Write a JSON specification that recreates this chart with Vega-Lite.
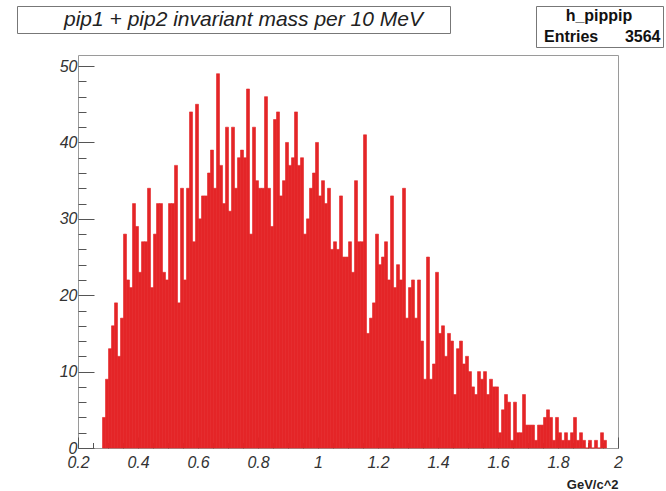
{
  "$schema": "https://vega.github.io/schema/vega-lite/v6.json",
  "width": 540,
  "height": 393,
  "autosize": {"type": "none"},
  "padding": {"left": 78, "top": 55, "right": 48, "bottom": 43},
  "background": "white",
  "config": {"view": {"stroke": "#9a9a9a", "strokeWidth": 1}, "font": "Liberation Sans"},
  "data": {"values": [
    {"m": 0.28, "n": 4}, {"m": 0.29, "n": 9}, {"m": 0.30, "n": 13}, {"m": 0.31, "n": 16}, {"m": 0.32, "n": 19},
    {"m": 0.33, "n": 12}, {"m": 0.34, "n": 17}, {"m": 0.35, "n": 28}, {"m": 0.36, "n": 22}, {"m": 0.37, "n": 21},
    {"m": 0.38, "n": 32}, {"m": 0.39, "n": 29}, {"m": 0.40, "n": 23}, {"m": 0.41, "n": 27}, {"m": 0.42, "n": 27},
    {"m": 0.43, "n": 34}, {"m": 0.44, "n": 21}, {"m": 0.45, "n": 28}, {"m": 0.46, "n": 32}, {"m": 0.47, "n": 32},
    {"m": 0.48, "n": 23}, {"m": 0.49, "n": 22}, {"m": 0.50, "n": 32}, {"m": 0.51, "n": 32}, {"m": 0.52, "n": 37},
    {"m": 0.53, "n": 19}, {"m": 0.54, "n": 34}, {"m": 0.55, "n": 22}, {"m": 0.56, "n": 34}, {"m": 0.57, "n": 44},
    {"m": 0.58, "n": 27}, {"m": 0.59, "n": 45}, {"m": 0.60, "n": 30}, {"m": 0.61, "n": 33}, {"m": 0.62, "n": 33},
    {"m": 0.63, "n": 36}, {"m": 0.64, "n": 39}, {"m": 0.65, "n": 34}, {"m": 0.66, "n": 49}, {"m": 0.67, "n": 37},
    {"m": 0.68, "n": 32}, {"m": 0.69, "n": 42}, {"m": 0.70, "n": 31}, {"m": 0.71, "n": 42}, {"m": 0.72, "n": 34},
    {"m": 0.73, "n": 38}, {"m": 0.74, "n": 39}, {"m": 0.75, "n": 38}, {"m": 0.76, "n": 47}, {"m": 0.77, "n": 28},
    {"m": 0.78, "n": 42}, {"m": 0.79, "n": 35}, {"m": 0.80, "n": 34}, {"m": 0.81, "n": 34}, {"m": 0.82, "n": 46},
    {"m": 0.83, "n": 34}, {"m": 0.84, "n": 29}, {"m": 0.85, "n": 43}, {"m": 0.86, "n": 44}, {"m": 0.87, "n": 33},
    {"m": 0.88, "n": 35}, {"m": 0.89, "n": 40}, {"m": 0.90, "n": 37}, {"m": 0.91, "n": 38}, {"m": 0.92, "n": 44},
    {"m": 0.93, "n": 37}, {"m": 0.94, "n": 38}, {"m": 0.95, "n": 28}, {"m": 0.96, "n": 30}, {"m": 0.97, "n": 34},
    {"m": 0.98, "n": 36}, {"m": 0.99, "n": 40}, {"m": 1.00, "n": 33}, {"m": 1.01, "n": 35}, {"m": 1.02, "n": 32},
    {"m": 1.03, "n": 34}, {"m": 1.04, "n": 26}, {"m": 1.05, "n": 27}, {"m": 1.06, "n": 26}, {"m": 1.07, "n": 33},
    {"m": 1.08, "n": 25}, {"m": 1.09, "n": 25}, {"m": 1.10, "n": 27}, {"m": 1.11, "n": 23}, {"m": 1.12, "n": 35},
    {"m": 1.13, "n": 27}, {"m": 1.14, "n": 27}, {"m": 1.15, "n": 41}, {"m": 1.16, "n": 15}, {"m": 1.17, "n": 17},
    {"m": 1.18, "n": 19}, {"m": 1.19, "n": 28}, {"m": 1.20, "n": 24}, {"m": 1.21, "n": 25}, {"m": 1.22, "n": 27},
    {"m": 1.23, "n": 22}, {"m": 1.24, "n": 33}, {"m": 1.25, "n": 21}, {"m": 1.26, "n": 24}, {"m": 1.27, "n": 22},
    {"m": 1.28, "n": 34}, {"m": 1.29, "n": 17}, {"m": 1.30, "n": 21}, {"m": 1.31, "n": 22}, {"m": 1.32, "n": 17},
    {"m": 1.33, "n": 22}, {"m": 1.34, "n": 14}, {"m": 1.35, "n": 9}, {"m": 1.36, "n": 25}, {"m": 1.37, "n": 9},
    {"m": 1.38, "n": 11}, {"m": 1.39, "n": 23}, {"m": 1.40, "n": 15}, {"m": 1.41, "n": 16}, {"m": 1.42, "n": 12},
    {"m": 1.43, "n": 15}, {"m": 1.44, "n": 14}, {"m": 1.45, "n": 7}, {"m": 1.46, "n": 13}, {"m": 1.47, "n": 14},
    {"m": 1.48, "n": 11}, {"m": 1.49, "n": 12}, {"m": 1.50, "n": 10}, {"m": 1.51, "n": 8}, {"m": 1.52, "n": 7},
    {"m": 1.53, "n": 10}, {"m": 1.54, "n": 9}, {"m": 1.55, "n": 10}, {"m": 1.56, "n": 7}, {"m": 1.57, "n": 9},
    {"m": 1.58, "n": 8}, {"m": 1.59, "n": 8}, {"m": 1.60, "n": 2}, {"m": 1.61, "n": 5}, {"m": 1.62, "n": 7},
    {"m": 1.63, "n": 6}, {"m": 1.64, "n": 1}, {"m": 1.65, "n": 6}, {"m": 1.66, "n": 2}, {"m": 1.67, "n": 2},
    {"m": 1.68, "n": 7}, {"m": 1.69, "n": 3}, {"m": 1.70, "n": 3}, {"m": 1.71, "n": 3}, {"m": 1.72, "n": 1},
    {"m": 1.73, "n": 3}, {"m": 1.74, "n": 3}, {"m": 1.75, "n": 4}, {"m": 1.76, "n": 5}, {"m": 1.77, "n": 4},
    {"m": 1.78, "n": 1}, {"m": 1.79, "n": 4}, {"m": 1.80, "n": 2}, {"m": 1.81, "n": 1}, {"m": 1.82, "n": 2},
    {"m": 1.83, "n": 1}, {"m": 1.84, "n": 2}, {"m": 1.85, "n": 4}, {"m": 1.86, "n": 1}, {"m": 1.87, "n": 2},
    {"m": 1.88, "n": 1}, {"m": 1.89, "n": 0}, {"m": 1.90, "n": 1}, {"m": 1.91, "n": 0}, {"m": 1.92, "n": 1},
    {"m": 1.93, "n": 0}, {"m": 1.94, "n": 2}, {"m": 1.95, "n": 1}
  ]},
  "mark": {"type": "bar", "binSpacing": 0, "stroke": "#e42527", "strokeWidth": 0.6},
  "encoding": {
    "x": {
      "field": "m", "type": "quantitative",
      "bin": {"binned": true, "step": 0.01},
      "scale": {"domain": [0.2, 2.0], "nice": false, "zero": false},
      "axis": {
        "values": [0.2, 0.25, 0.3, 0.35, 0.4, 0.45, 0.5, 0.55, 0.6, 0.65, 0.7, 0.75, 0.8, 0.85, 0.9, 0.95, 1.0, 1.05, 1.1, 1.15, 1.2, 1.25, 1.3, 1.35, 1.4, 1.45, 1.5, 1.55, 1.6, 1.65, 1.7, 1.75, 1.8, 1.85, 1.9, 1.95, 2.0],
        "labelExpr": "abs(datum.value*5 - round(datum.value*5)) < 0.001 ? format(datum.value, '~g') : ''",
        "tickSize": {"condition": {"test": "abs(datum.value*5 - round(datum.value*5)) < 0.001", "value": -11}, "value": -5.5},
        "tickColor": "#555", "tickWidth": 1,
        "domain": false, "grid": false,
        "labelFontSize": 16, "labelFontStyle": "italic", "labelColor": "#333", "labelPadding": 17,
        "labelFlush": false, "labelOverlap": false,
        "title": "GeV/c^2", "titleAnchor": "end", "titleFontWeight": "bold", "titleFontSize": 13, "titleColor": "#222", "titlePadding": 3
      }
    },
    "y": {
      "field": "n", "type": "quantitative",
      "scale": {"domain": [0, 51.45], "nice": false},
      "axis": {
        "values": [0, 2, 4, 6, 8, 10, 12, 14, 16, 18, 20, 22, 24, 26, 28, 30, 32, 34, 36, 38, 40, 42, 44, 46, 48, 50],
        "labelExpr": "datum.value % 10 == 0 ? datum.label : ''",
        "tickSize": {"condition": {"test": "datum.value % 10 == 0", "value": -16}, "value": -8},
        "tickColor": "#555", "tickWidth": 1,
        "domain": false, "grid": false,
        "labelFontSize": 16, "labelFontStyle": "italic", "labelColor": "#333", "labelPadding": 17,
        "labelFlush": false, "labelOverlap": false,
        "title": null
      }
    },
    "color": {
      "datum": "Entries\u00a0\u00a0\u00a0\u00a0\u00a0\u00a03564", "type": "nominal",
      "scale": {"range": ["#e42527"]},
      "legend": {
        "orient": "none", "legendX": 458, "legendY": -49,
        "title": "h_pippip", "titleAnchor": "middle", "titleFontSize": 16, "titleFontWeight": "bold", "titleColor": "#111", "titlePadding": 5,
        "labelFontSize": 16, "labelFontWeight": "bold", "labelColor": "#111", "labelLimit": 0, "labelOffset": -10,
        "symbolSize": 0, "symbolStrokeWidth": 0, "symbolOpacity": 0,
        "strokeColor": "#777", "fillColor": "white", "padding": 2, "cornerRadius": 0
      }
    },
    "opacity": {
      "datum": "pip1 + pip2 invariant mass per 10 MeV\u00a0\u00a0\u00a0\u00a0\u200b", "type": "nominal",
      "scale": {"range": [1]},
      "legend": {
        "orient": "none", "legendX": -61, "legendY": -49,
        "title": null,
        "labelFontSize": 21, "labelFontStyle": "italic", "labelColor": "#222", "labelLimit": 0, "labelOffset": 23,
        "symbolSize": 0, "symbolStrokeWidth": 0, "symbolOpacity": 0,
        "strokeColor": "#777", "fillColor": "white", "padding": 3, "cornerRadius": 0
      }
    }
  }
}
